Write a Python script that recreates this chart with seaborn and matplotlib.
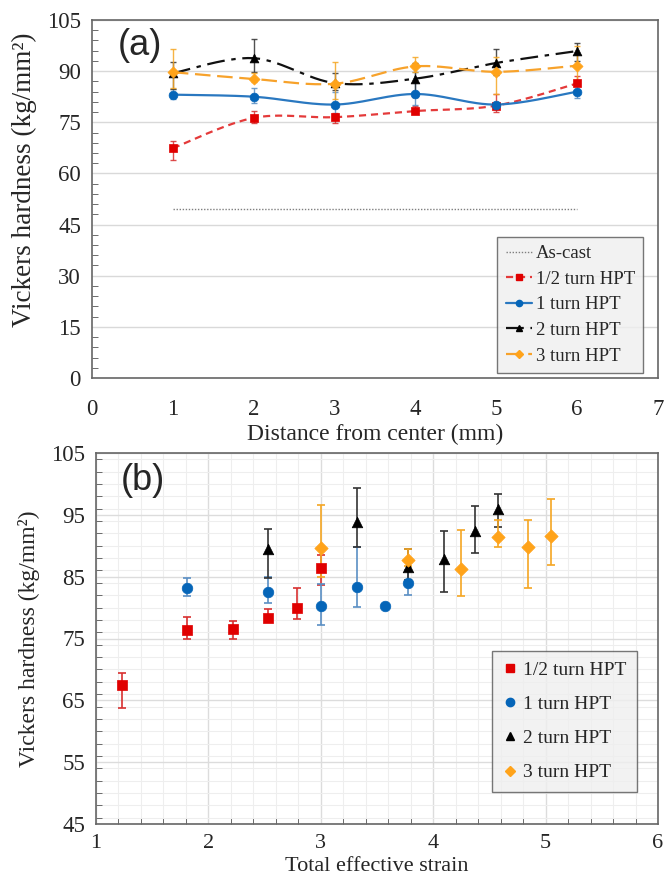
import numpy as np
import pandas as pd
import matplotlib
matplotlib.use("Agg")
import matplotlib.pyplot as plt
from matplotlib.ticker import MultipleLocator
from matplotlib.lines import Line2D
import seaborn as sns

# ---------------- data ----------------
distance = [1, 2, 3, 4, 5, 6]
series = ["1/2 turn HPT", "1 turn HPT", "2 turn HPT", "3 turn HPT"]

strain_half = [1.23, 1.81, 2.22, 2.53, 2.79, 3.00]
strain_1 = [1.81, 2.53, 3.00, 3.32, 3.57, 3.78]
strain_2 = [2.53, 3.32, 3.78, 4.10, 4.37, 4.58]
strain_3 = [3.00, 3.78, 4.25, 4.58, 4.84, 5.05]

hv_half = [67.4, 76.3, 76.5, 78.3, 79.9, 86.4]
hi_half = [69.4, 78.4, 77.8, 79.7, 83.2, 88.5]
lo_half = [63.8, 74.9, 74.9, 77.6, 78.1, 83.7]

hv_1 = [83.1, 82.5, 80.2, 83.3, 80.2, 84.0]
hi_1 = [84.8, 85.0, 83.8, 89.8, 80.5, 86.0]
lo_1 = [81.8, 80.8, 77.2, 80.1, 79.9, 82.0]

hv_2 = [89.4, 93.8, 86.5, 87.8, 92.4, 95.9]
hi_2 = [92.7, 99.3, 89.5, 92.4, 96.4, 98.4]
lo_2 = [84.8, 89.8, 84.5, 82.5, 88.8, 93.0]

hv_3 = [89.7, 87.7, 86.3, 91.4, 89.8, 91.6]
hi_3 = [96.6, 89.4, 92.6, 94.1, 94.2, 97.5]
lo_3 = [85.0, 86.7, 81.8, 89.8, 83.2, 86.9]

as_cast = 49.5
as_cast_range = [1, 6]

x_ticks_a = [0, 1, 2, 3, 4, 5, 6, 7]
y_ticks_a = [0, 15, 30, 45, 60, 75, 90, 105]
x_ticks_b = [1, 2, 3, 4, 5, 6]
y_ticks_b = [45, 55, 65, 75, 85, 95, 105]

# ---------------- styles ----------------
mk_col = ["#e00000", "#0565b8", "#000000", "#ffa31a"]
ln_col = ["#e43a3a", "#2a78c0", "#111111", "#f7a22b"]
eb_col = ["#d83030", "#5a8fc4", "#333333", "#f5a623"]
markers = ["s", "o", "^", "D"]
ls = [(0, (3.2, 2.2)), "-", (0, (8, 3, 2, 3)), (0, (7, 3))]

sns.set_style("white")
plt.rcParams["font.family"] = ["Liberation Serif", "DejaVu Serif"]

fig = plt.figure(figsize=(6.66, 8.77), dpi=100)
axA = fig.add_axes([92 / 666, 1 - 378 / 877, 566 / 666, 358 / 877])
axB = fig.add_axes([96 / 666, 1 - 824 / 877, 562 / 666, 371 / 877])

strains = [strain_half, strain_1, strain_2, strain_3]
hvs = [hv_half, hv_1, hv_2, hv_3]
his = [hi_half, hi_1, hi_2, hi_3]
los = [lo_half, lo_1, lo_2, lo_3]


def smooth(x, y, n=30):
    x = np.asarray(x, float)
    y = np.asarray(y, float)
    P = np.column_stack([x, y])
    Pe = np.vstack([P[0], P, P[-1]])
    out = []
    for i in range(len(P) - 1):
        p0, p3 = Pe[i + 1], Pe[i + 2]
        p1 = p0 + (Pe[i + 2] - Pe[i]) / 6.0
        p2 = p3 - (Pe[i + 3] - Pe[i + 1]) / 6.0
        t = np.linspace(0, 1, n)[:, None]
        seg = ((1 - t) ** 3) * p0 + 3 * ((1 - t) ** 2) * t * p1 + 3 * (1 - t) * t ** 2 * p2 + t ** 3 * p3
        out.append(seg if i == 0 else seg[1:])
    s = np.vstack(out)
    return s[:, 0], s[:, 1]


# ---------------- panel (a) ----------------
ax = axA
ax.plot(as_cast_range, [as_cast, as_cast], color="#7f7f7f", lw=1.0, ls=(0, (1, 1.2)), zorder=2)
for i in range(4):
    y = np.array(hvs[i])
    yerr = [y - np.array(los[i]), np.array(his[i]) - y]
    ax.errorbar(distance, y, yerr=yerr, fmt="none", ecolor=eb_col[i], elinewidth=1.0,
                capsize=2.5, capthick=1.0, zorder=3, alpha=0.85)
    sx, sy = smooth(distance, y)
    sns.lineplot(x=sx, y=sy, ax=ax, color=ln_col[i], lw=1.6, linestyle=ls[i], sort=False,
                 estimator=None, zorder=4)
    sns.scatterplot(x=distance, y=y, ax=ax, marker=markers[i], color=mk_col[i],
                    s=40 if markers[i] != "D" else 32, edgecolor=mk_col[i], linewidth=0.5, zorder=5)

ax.set_xlim(0, 7)
ax.set_ylim(0, 105)
ax.set_xticks(x_ticks_a)
ax.set_yticks(y_ticks_a)
ax.yaxis.set_minor_locator(MultipleLocator(3))
ax.grid(axis="y", which="major", color="#d9d9d9", lw=1.0)
ax.set_axisbelow(True)
ax.tick_params(axis="both", which="major", labelsize=16.5, direction="out", length=5,
               color="#555555", pad=4)
ax.tick_params(axis="x", which="major", pad=10)
ax.tick_params(axis="y", which="major", direction="inout", length=8)
ax.tick_params(axis="y", which="minor", direction="in", length=4, color="#555555", left=True)
ax.set_xlabel("Distance from center (mm)", fontsize=17)
ax.xaxis.set_label_coords(0.5, -0.128)
ax.set_ylabel("Vickers hardness (kg/mm²)", fontsize=19.5)
ax.yaxis.set_label_coords(-0.097, 0.553)
for sp in ax.spines.values():
    sp.set_color("#666666")
    sp.set_linewidth(1.2)
ax.text(0.32, 97.5, "(a)", fontsize=26, family=["Liberation Sans", "DejaVu Sans"],
        va="center", ha="left")

handles = [Line2D([], [], color="#7f7f7f", lw=1.0, ls=(0, (1, 1.2)))]
for i in range(4):
    handles.append(Line2D([], [], color=ln_col[i], lw=1.6, ls=ls[i], marker=markers[i],
                          markersize=4.5, markerfacecolor=mk_col[i], markeredgecolor=mk_col[i]))
leg = ax.legend(handles, ["As-cast"] + series, loc="lower right", bbox_to_anchor=(0.974, 0.014),
                borderaxespad=0, fontsize=13.5, frameon=True, fancybox=False, handlelength=1.4,
                handletextpad=0.2, labelspacing=0.45, borderpad=0.45)
leg.get_frame().set_facecolor("#efefef")
leg.get_frame().set_edgecolor("#555555")
leg.get_frame().set_linewidth(1.0)

# ---------------- panel (b) ----------------
ax = axB
for i in range(4):
    y = np.array(hvs[i])
    yerr = [y - np.array(los[i]), np.array(his[i]) - y]
    ax.errorbar(strains[i], y, yerr=yerr, fmt="none", ecolor=eb_col[i], elinewidth=1.2,
                capsize=3, capthick=1.2, zorder=3)
    df = pd.DataFrame({"strain": strains[i], "hv": hvs[i]})
    sns.scatterplot(data=df, x="strain", y="hv", ax=ax, marker=markers[i], color=mk_col[i],
                    s=58 if markers[i] != "D" else 46, edgecolor=mk_col[i], linewidth=0.5,
                    zorder=4 + (1 if i == 0 else 0))

ax.set_xlim(1, 6)
ax.set_ylim(45, 105)
ax.set_xticks(x_ticks_b)
ax.set_yticks(y_ticks_b)
ax.xaxis.set_minor_locator(MultipleLocator(0.2))
ax.yaxis.set_minor_locator(MultipleLocator(2))
ax.grid(which="major", color="#dcdcdc", lw=1.0)
ax.grid(which="minor", color="#eeeeee", lw=0.8)
ax.set_axisbelow(True)
ax.tick_params(axis="both", which="major", labelsize=16.5, direction="inout", length=8,
               color="#555555", pad=4)
ax.tick_params(axis="x", which="major", labelsize=16, pad=3)
ax.tick_params(axis="both", which="minor", direction="in", length=4, color="#555555",
               left=True, bottom=True)
ax.set_xlabel("Total effective strain", fontsize=16, va="bottom")
ax.xaxis.set_label_coords(0.5, -0.1395)
ax.set_ylabel("Vickers hardness (kg/mm²)", fontsize=17, labelpad=8)
for sp in ax.spines.values():
    sp.set_color("#666666")
    sp.set_linewidth(1.2)
ax.text(1.22, 100.6, "(b)", fontsize=26, family=["Liberation Sans", "DejaVu Sans"],
        va="center", ha="left")

handles_b = [Line2D([], [], ls="none", marker=markers[i], markersize=6 if i != 3 else 5.5,
                    markerfacecolor=mk_col[i], markeredgecolor=mk_col[i]) for i in range(4)]
legb = ax.legend(handles_b, series, loc="lower right", bbox_to_anchor=(0.962, 0.086),
                 borderaxespad=0, fontsize=14, frameon=True, fancybox=False, handlelength=0.7,
                 handletextpad=0.3, labelspacing=0.85, borderpad=0.55)
legb.get_frame().set_facecolor("#efefef")
legb.get_frame().set_edgecolor("#555555")
legb.get_frame().set_linewidth(1.0)

fig.savefig("out.png", dpi=100)
